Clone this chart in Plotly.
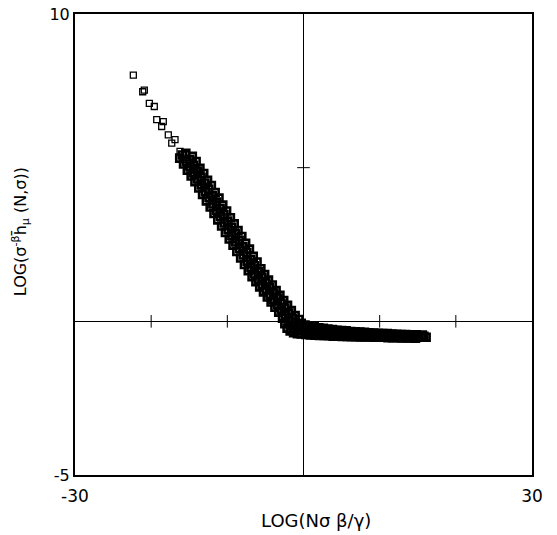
import plotly.graph_objects as go

# ---- data ----
x_top = [-22.34, -21.11, -20.90, -20.24, -19.59, -19.27, -18.41, -18.62, -17.75, -16.87,
         -17.30, -16.21, -15.47, -15.78, -15.12, -14.11]
y_top = [8.01, 7.47, 7.52, 7.09, 6.99, 6.56, 6.50, 6.34, 6.07, 5.91,
         5.80, 5.53, 5.42, 5.26, 5.04, 4.94]

x_a = [-14.6, -14.1, -13.6, -13.1, -12.6, -12.1, -11.6, -11.1, -10.6, -10.1,
       -9.6, -9.1, -8.6, -8.1, -7.6, -7.1, -6.6, -6.1, -5.6, -5.1,
       -4.6, -4.1, -3.6, -3.1, -2.6, -2.1, -1.6, -1.1, -0.6,
       -0.3, 0.2, 0.8, 1.4, 2.0, 2.6, 3.2, 3.8, 4.4, 5.0,
       5.6, 6.2, 6.8, 7.4, 8.0, 8.6, 9.2, 9.8, 10.4, 11.0,
       11.6, 12.2, 12.8, 13.4, 14.0, 14.8, 15.6]
y_a = [5.37, 5.20, 4.98, 4.81, 4.59, 4.42, 4.19, 4.01, 3.78, 3.59,
       3.37, 3.17, 2.95, 2.76, 2.54, 2.35, 2.12, 1.93, 1.71, 1.52,
       1.34, 1.18, 1.00, 0.85, 0.68, 0.52, 0.35, 0.19, 0.06,
       -0.06, -0.12, -0.15, -0.18, -0.21, -0.23, -0.25, -0.27, -0.29, -0.30,
       -0.31, -0.33, -0.34, -0.35, -0.36, -0.37, -0.38, -0.39, -0.40, -0.40,
       -0.41, -0.42, -0.43, -0.43, -0.44, -0.44, -0.45]

x_b = [-15.45, -14.95, -14.45, -13.95, -13.45, -12.95, -12.45, -11.95, -11.45, -10.95,
       -10.45, -9.95, -9.45, -8.95, -8.45, -7.95, -7.45, -6.95, -6.45, -5.95,
       -5.45, -4.95, -4.45, -3.95, -3.45, -2.95, -2.45, -1.95, -1.45, -1.1, -0.7,
       -0.3, 0.5, 1.1, 1.7, 2.3, 2.9, 3.5, 4.1, 4.7, 5.3,
       5.9, 6.5, 7.1, 7.7, 8.3, 8.9, 9.5, 10.1, 10.7, 11.3,
       11.9, 12.5, 13.1, 13.7, 14.3, 15.0, 15.8]
y_b = [5.47, 5.27, 5.08, 4.89, 4.69, 4.50, 4.30, 4.09, 3.88, 3.68,
       3.47, 3.26, 3.06, 2.85, 2.64, 2.43, 2.23, 2.02, 1.81, 1.61,
       1.42, 1.25, 1.09, 0.92, 0.76, 0.59, 0.43, 0.26, 0.10, -0.04, -0.13,
       -0.18, -0.24, -0.26, -0.28, -0.30, -0.32, -0.33, -0.35, -0.36, -0.37,
       -0.38, -0.39, -0.40, -0.41, -0.42, -0.42, -0.43, -0.44, -0.45, -0.45,
       -0.46, -0.46, -0.47, -0.47, -0.48, -0.48, -0.49]

x_c = [-15.9, -15.4, -14.9, -14.4, -13.9, -13.4, -12.9, -12.4, -11.9, -11.4,
       -10.9, -10.4, -9.9, -9.4, -8.9, -8.4, -7.9, -7.4, -6.9, -6.4,
       -5.9, -5.4, -4.9, -4.4, -3.9, -3.4, -2.9, -2.4, -1.9, -1.6, -1.2, -0.7,
       -0.2, 0.4, 1.0, 1.6, 2.2, 2.8, 3.4, 4.0, 4.6, 5.2,
       5.8, 6.4, 7.0, 7.6, 8.2, 8.8, 9.4, 10.0, 10.6, 11.2,
       11.8, 12.4, 13.0, 13.6, 14.2, 14.9, 15.5, 16.1]
y_c = [5.41, 5.21, 5.02, 4.83, 4.63, 4.44, 4.23, 4.03, 3.82, 3.61,
       3.41, 3.20, 2.99, 2.79, 2.58, 2.37, 2.16, 1.96, 1.75, 1.54,
       1.37, 1.20, 1.04, 0.87, 0.71, 0.54, 0.38, 0.21, 0.02, -0.14, -0.24, -0.29,
       -0.31, -0.33, -0.35, -0.37, -0.38, -0.40, -0.41, -0.42, -0.43, -0.43,
       -0.44, -0.45, -0.45, -0.46, -0.47, -0.47, -0.48, -0.48, -0.49, -0.49,
       -0.50, -0.50, -0.50, -0.51, -0.51, -0.52, -0.52, -0.52]

x_d = [-16.25, -15.75, -15.25, -14.75, -14.25, -13.75, -13.25, -12.75, -12.25, -11.75,
       -11.25, -10.75, -10.25, -9.75, -9.25, -8.75, -8.25, -7.75, -7.25, -6.75,
       -6.25, -5.75, -5.25, -4.75, -4.25, -3.75, -3.25, -2.75, -2.45, -2.15, -1.75, -1.3, -0.8,
       -0.3, 0.3, 0.9, 1.5, 2.1, 2.7, 3.3, 3.9, 4.5, 5.1,
       5.7, 6.3, 6.9, 7.5, 8.1, 8.7, 9.3, 9.9, 10.5, 11.1,
       11.7, 12.3, 12.9, 13.5, 14.1, 14.7]
y_d = [5.31, 5.12, 4.92, 4.73, 4.54, 4.34, 4.13, 3.92, 3.72, 3.51,
       3.30, 3.10, 2.89, 2.68, 2.48, 2.27, 2.06, 1.85, 1.65, 1.45,
       1.29, 1.12, 0.96, 0.79, 0.63, 0.46, 0.30, 0.10, -0.08, -0.22, -0.31, -0.37, -0.40,
       -0.41, -0.43, -0.44, -0.45, -0.46, -0.46, -0.47, -0.48, -0.48, -0.49,
       -0.49, -0.50, -0.50, -0.51, -0.51, -0.51, -0.52, -0.52, -0.52, -0.53,
       -0.53, -0.53, -0.54, -0.54, -0.54, -0.55]

x_ticks_on_zero = [-20, -10, 10, 20]
y_ticks_on_zero = [5]
x_range = [-30, 30]
y_range = [-5, 10]
x_ticklabels = ["-30", "30"]
y_ticklabels = ["-5", "10"]
x_title = "LOG(Nσ β/γ)"
y_title = "LOG(σ<sup>-β</sup>h\u0304<sub>μ</sub> (N,σ))"

FONT = "DejaVu Sans"

fig = go.Figure()
sparse_marker = dict(symbol="square-open", size=6, color="black",
                     line=dict(width=1.3, color="black"))
dense_marker = dict(symbol="square-open", size=7, color="black",
                    line=dict(width=2.6, color="black"))
fig.add_trace(go.Scatter(x=x_top, y=y_top, mode="markers", marker=sparse_marker,
                         showlegend=False, hoverinfo="skip"))
for xs, ys in [(x_a, y_a), (x_b, y_b), (x_c, y_c), (x_d, y_d)]:
    fig.add_trace(go.Scatter(x=xs, y=ys, mode="markers", marker=dense_marker,
                             showlegend=False, hoverinfo="skip"))

# small cross ticks on the zero lines
fig.add_trace(go.Scatter(x=x_ticks_on_zero, y=[0] * len(x_ticks_on_zero), mode="markers",
                         marker=dict(symbol="line-ns", size=9, line=dict(width=1, color="black")),
                         showlegend=False, hoverinfo="skip"))
fig.add_trace(go.Scatter(x=[0] * len(y_ticks_on_zero), y=y_ticks_on_zero, mode="markers",
                         marker=dict(symbol="line-ew", size=9, line=dict(width=1, color="black")),
                         showlegend=False, hoverinfo="skip"))

# the page body keeps an 8px default margin, so the figure is sized/offset for it
fig.update_layout(
    width=549, height=527,
    margin=dict(l=67, r=25, t=6, b=60),
    paper_bgcolor="white", plot_bgcolor="white",
    font=dict(family=FONT, color="black"),
    xaxis=dict(range=x_range, tickvals=x_range, ticktext=x_ticklabels, automargin=False,
               showgrid=False, zeroline=True, zerolinecolor="black", zerolinewidth=1,
               showline=True, linecolor="black", linewidth=2, mirror=True,
               ticks="", tickfont=dict(size=17, family=FONT), ticklabelstandoff=5,
               ticklabeloverflow="allow"),
    yaxis=dict(range=y_range, tickvals=y_range, ticktext=y_ticklabels, automargin=False,
               showgrid=False, zeroline=True, zerolinecolor="black", zerolinewidth=1,
               showline=True, linecolor="black", linewidth=2, mirror=True,
               ticks="", tickfont=dict(size=16, family=FONT),
               ticklabeloverflow="allow"),
    annotations=[
        dict(text=x_title, xref="paper", yref="paper", x=0.527, y=-0.0987,
             xanchor="center", yanchor="middle", showarrow=False,
             font=dict(size=18, family=FONT)),
        dict(text=y_title, xref="paper", yref="paper", x=-0.12, y=0.527,
             xanchor="center", yanchor="middle", showarrow=False, textangle=-90,
             font=dict(size=16, family=FONT)),
    ],
)

fig.write_html("out.html")
